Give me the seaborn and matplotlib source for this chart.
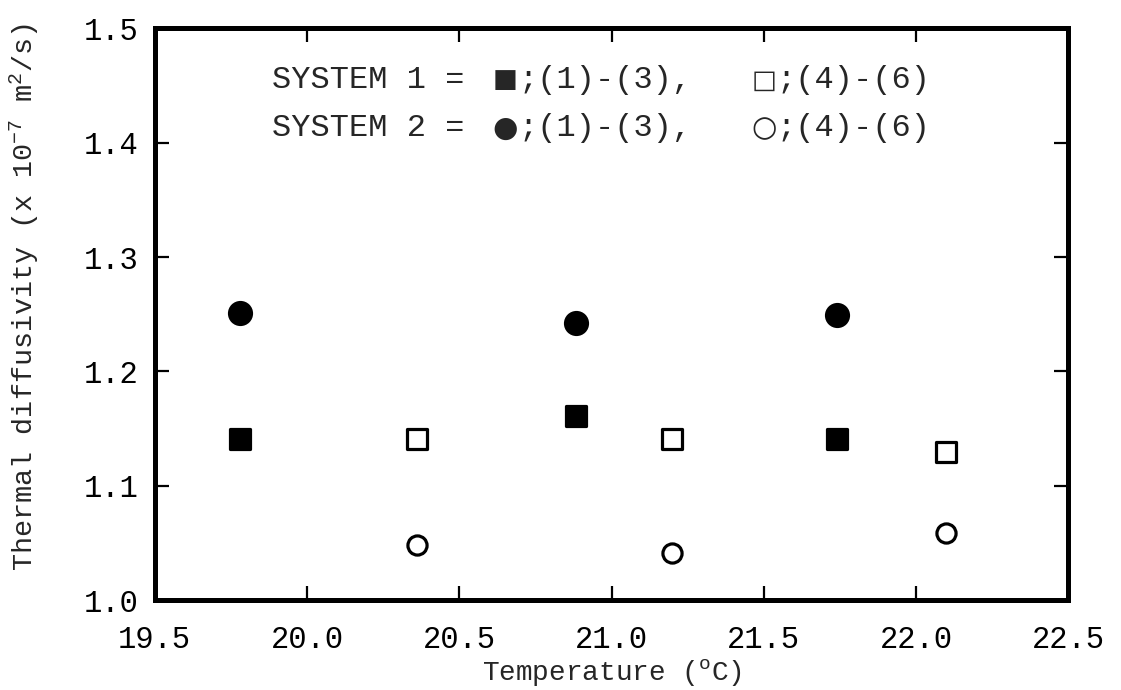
import matplotlib
matplotlib.use("Agg")
import matplotlib.pyplot as plt
import pandas as pd
import seaborn as sns

# Temperatures (oC) and thermal diffusivity (x 1e-7 m2/s)
temp_a = [19.78, 20.885, 21.74]     # runs (1)-(3)
temp_b = [20.36, 21.20, 22.10]      # runs (4)-(6)
sys1_a = [1.141, 1.161, 1.141]      # filled squares
sys1_b = [1.141, 1.141, 1.130]      # open squares
sys2_a = [1.251, 1.242, 1.249]      # filled circles
sys2_b = [1.048, 1.041, 1.059]      # open circles

x_ticks = [19.5, 20.0, 20.5, 21.0, 21.5, 22.0, 22.5]
y_ticks = [1.0, 1.1, 1.2, 1.3, 1.4, 1.5]

# key text: (row label, filled glyph, open glyph)
key_rows = [
    ("SYSTEM 1 =", "\u25a0", "\u25a1"),
    ("SYSTEM 2 =", "\u25cf", "\u25cb"),
]

sns.set_style("ticks")
plt.rcParams["font.family"] = ["Liberation Mono", "DejaVu Sans Mono"]
plt.rcParams["mathtext.fontset"] = "custom"
plt.rcParams["mathtext.rm"] = "Liberation Mono"
plt.rcParams["mathtext.it"] = "Liberation Mono"

df = pd.concat([
    pd.DataFrame({"temp": temp_a, "alpha": sys1_a, "set": "s1a"}),
    pd.DataFrame({"temp": temp_b, "alpha": sys1_b, "set": "s1b"}),
    pd.DataFrame({"temp": temp_a, "alpha": sys2_a, "set": "s2a"}),
    pd.DataFrame({"temp": temp_b, "alpha": sys2_b, "set": "s2b"}),
])

fig = plt.figure(figsize=(11.21, 6.9), dpi=100)
ax = fig.add_axes([0.138, 0.130, 0.815, 0.829])

styles = {
    "s1a": dict(marker="s", facecolor="black", s=210),
    "s1b": dict(marker="s", facecolor="white", s=200),
    "s2a": dict(marker="o", facecolor="black", s=250),
    "s2b": dict(marker="o", facecolor="white", s=190),
}
for key, st in styles.items():
    sns.scatterplot(data=df[df["set"] == key], x="temp", y="alpha",
                    marker=st["marker"], s=st["s"], color=st["facecolor"],
                    edgecolor="black", linewidth=2.3, ax=ax, legend=False,
                    zorder=3)

ax.set_xlim(19.5, 22.5)
ax.set_ylim(1.0, 1.5)
ax.set_xticks(x_ticks)
ax.set_yticks(y_ticks)
ax.set_xticklabels([f"{v:.1f}" for v in x_ticks])
ax.set_yticklabels([f"{v:.1f}" for v in y_ticks])
ax.tick_params(direction="in", length=10, width=1.6, top=True, right=True,
               labelsize=22, colors="black")
ax.tick_params(axis="y", pad=12)
ax.tick_params(axis="x", pad=18)
for sp in ax.spines.values():
    sp.set_linewidth(3.6)
    sp.set_color("black")

ax.set_xlabel("Temperature ($^{\\mathrm{o}}$C)", fontsize=20, labelpad=1)
ax.set_ylabel("Thermal diffusivity (x 10$^{-7}$ m$^{2}$/s)", fontsize=20.5)
ax.yaxis.set_label_coords(-0.124, 0.53)

# typed key at the top of the frame
glyph_font = ["DejaVu Sans"]
for (label, full, hollow), yk in zip(key_rows, [0.909, 0.825]):
    gsize = 19 if full == "\u25a0" else 21
    ax.text(0.128, yk, label, transform=ax.transAxes, fontsize=23,
            va="center", ha="left")
    ax.text(0.384, yk, full, transform=ax.transAxes, fontsize=gsize,
            family=glyph_font, va="center", ha="center")
    ax.text(0.398, yk, ";(1)-(3),", transform=ax.transAxes, fontsize=23,
            va="center", ha="left")
    ax.text(0.667, yk, hollow, transform=ax.transAxes, fontsize=gsize,
            family=glyph_font, va="center", ha="center")
    ax.text(0.681, yk, ";(4)-(6)", transform=ax.transAxes, fontsize=23,
            va="center", ha="left")

fig.savefig("out.png", dpi=100)
